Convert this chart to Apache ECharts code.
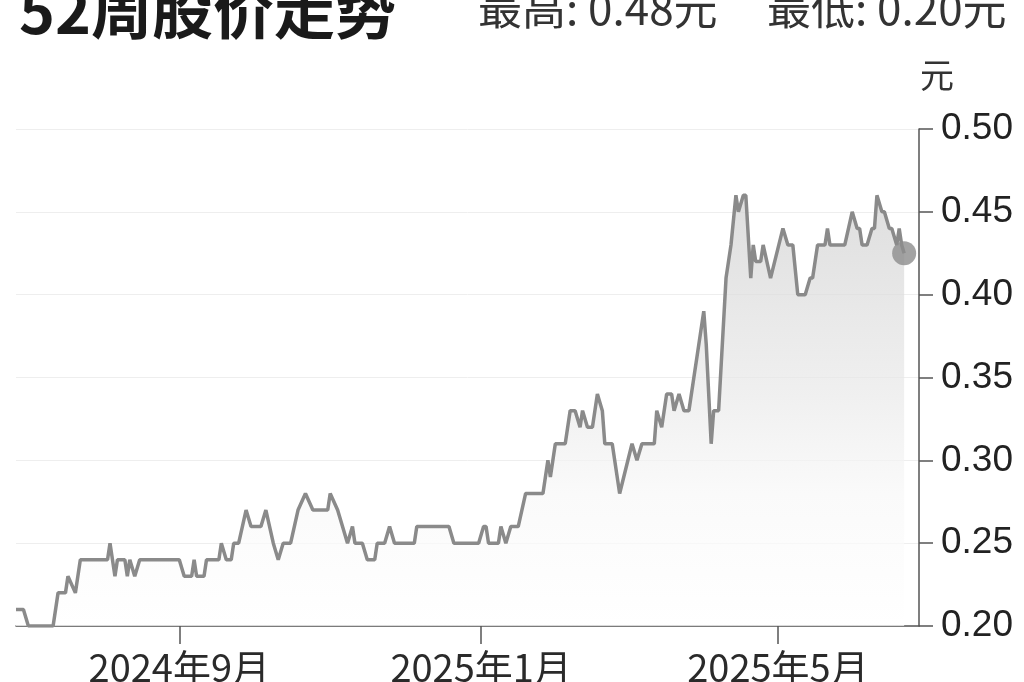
<!DOCTYPE html>
<html>
<head>
<meta charset="utf-8">
<script src="https://cdn.jsdelivr.net/npm/echarts@6/dist/echarts.min.js"></script>
<style>
html,body{margin:0;padding:0;background:#fff;}
#chart{width:1024px;height:682px;}
</style>
</head>
<body>
<div id="chart"></div>
<script>
// ---- data ----
const titleText = '52周股价走势';
const highText = '最高: 0.48元';
const lowText = '最低: 0.20元';
const unitText = '元';

const dates = [
  '2024-06-27','2024-06-30','2024-07-02','2024-07-12','2024-07-14','2024-07-17','2024-07-18','2024-07-21','2024-07-23',
  '2024-08-03','2024-08-04','2024-08-06','2024-08-07','2024-08-10','2024-08-11','2024-08-12','2024-08-14','2024-08-16',
  '2024-09-01','2024-09-03','2024-09-06','2024-09-07','2024-09-08','2024-09-11','2024-09-12','2024-09-17','2024-09-18',
  '2024-09-20','2024-09-22','2024-09-23','2024-09-25','2024-09-28','2024-09-30',
  '2024-10-04','2024-10-06','2024-10-09','2024-10-11','2024-10-13','2024-10-16','2024-10-19','2024-10-22','2024-10-25','2024-10-31',
  '2024-11-01','2024-11-04','2024-11-08','2024-11-10','2024-11-11','2024-11-14','2024-11-16','2024-11-19','2024-11-20','2024-11-23','2024-11-25','2024-11-27',
  '2024-12-05','2024-12-06','2024-12-19','2024-12-21','2024-12-31',
  '2025-01-02','2025-01-03','2025-01-04','2025-01-08','2025-01-09','2025-01-11','2025-01-13','2025-01-16','2025-01-19','2025-01-26','2025-01-28','2025-01-29','2025-01-31',
  '2025-02-04','2025-02-06','2025-02-08','2025-02-10','2025-02-11','2025-02-13','2025-02-15','2025-02-17','2025-02-19','2025-02-20','2025-02-23','2025-02-26',
  '2025-03-03','2025-03-05','2025-03-07','2025-03-12','2025-03-13','2025-03-15','2025-03-17','2025-03-19','2025-03-20','2025-03-22','2025-03-24','2025-03-26','2025-03-28','2025-03-29',
  '2025-04-01','2025-04-02','2025-04-04','2025-04-05','2025-04-07','2025-04-10','2025-04-11','2025-04-12','2025-04-14','2025-04-15','2025-04-17','2025-04-18',
  '2025-04-20','2025-04-21','2025-04-22','2025-04-24','2025-04-25','2025-04-28',
  '2025-05-03','2025-05-05','2025-05-07','2025-05-09','2025-05-12','2025-05-14','2025-05-15','2025-05-17','2025-05-20','2025-05-21','2025-05-22','2025-05-28','2025-05-31',
  '2025-06-02','2025-06-03','2025-06-04','2025-06-06','2025-06-08','2025-06-09','2025-06-10','2025-06-12','2025-06-13','2025-06-15','2025-06-16','2025-06-18','2025-06-19','2025-06-20','2025-06-21'
];
const prices = [
  0.21,0.21,0.20,0.20,0.22,0.22,0.23,0.22,0.24,
  0.24,0.25,0.23,0.24,0.24,0.23,0.24,0.23,0.24,
  0.24,0.23,0.23,0.24,0.23,0.23,0.24,0.24,0.25,
  0.24,0.24,0.25,0.25,0.27,0.26,
  0.26,0.27,0.25,0.24,0.25,0.25,0.27,0.28,0.27,0.27,
  0.28,0.27,0.25,0.26,0.25,0.25,0.24,0.24,0.25,0.25,0.26,0.25,
  0.25,0.26,0.26,0.25,0.25,
  0.26,0.26,0.25,0.25,0.26,0.25,0.26,0.26,0.28,0.28,0.30,0.29,0.31,
  0.31,0.33,0.33,0.32,0.33,0.32,0.32,0.34,0.33,0.31,0.31,0.28,
  0.31,0.30,0.31,0.31,0.33,0.32,0.34,0.34,0.33,0.34,0.33,0.33,0.35,0.36,
  0.39,0.37,0.31,0.33,0.33,0.41,0.42,0.43,0.46,0.45,0.46,0.46,
  0.41,0.43,0.42,0.42,0.43,0.41,
  0.44,0.43,0.43,0.40,0.40,0.41,0.41,0.43,0.43,0.44,0.43,0.43,0.45,
  0.44,0.44,0.43,0.43,0.44,0.44,0.46,0.45,0.45,0.44,0.44,0.43,0.44,0.43,0.425
];
const xTickDates = ['2024-09-01','2025-01-01','2025-05-01'];
const xTickLabels = ['2024年9月','2025年1月','2025年5月'];
const xRange = ['2024-06-27','2025-06-27'];
const yTicks = [0.20, 0.25, 0.30, 0.35, 0.40, 0.45, 0.50];

// ---- chart ----
const chart = echarts.init(document.getElementById('chart'), null, {renderer:'canvas'});
const ts = d => new Date(d + 'T00:00:00Z').getTime();
const seriesData = dates.map((d, i) => [ts(d), prices[i]]);
const lastPoint = seriesData[seriesData.length - 1];
const tickTs = xTickDates.map(ts);
const labelFor = v => {
  let best = '', bd = Infinity;
  tickTs.forEach((t, i) => { const d = Math.abs(t - v); if (d < bd) { bd = d; best = xTickLabels[i]; } });
  return bd < 86400000 ? best : '';
};

const numFont = '"Liberation Sans", "Noto Sans CJK SC", sans-serif';
const cjkFont = '"Noto Sans CJK SC", "Liberation Sans", sans-serif';

chart.setOption({
  animation: false,
  backgroundColor: '#ffffff',
  grid: {left: 16, right: 105, top: 129, bottom: 56, containLabel: false, outerBoundsMode: 'none'},
  xAxis: {
    type: 'value',
    min: ts(xRange[0]),
    max: ts(xRange[1]),
    axisLine: {show: true, lineStyle: {color: '#555', width: 1.5}},
    axisTick: {show: true, length: 18, lineStyle: {color: '#555', width: 1.5}, customValues: tickTs},
    axisLabel: {
      customValues: tickTs,
      formatter: v => labelFor(v),
      fontSize: 38, color: '#2a2a2a', margin: 23, fontFamily: cjkFont
    },
    splitLine: {show: false}
  },
  yAxis: {
    type: 'value',
    position: 'right',
    min: yTicks[0], max: yTicks[yTicks.length - 1], interval: 0.05,
    axisLine: {show: true, lineStyle: {color: '#555', width: 1.5}},
    axisTick: {show: true, length: 14, lineStyle: {color: '#555', width: 1.5}},
    axisLabel: {
      formatter: v => v.toFixed(2),
      fontSize: 37, color: '#222', margin: 22, fontFamily: numFont
    },
    splitLine: {show: true, lineStyle: {color: '#eeeeee', width: 1}}
  },
  series: [
    {
      type: 'line',
      data: seriesData,
      showSymbol: false,
      smooth: false,
      lineStyle: {color: '#8a8a8a', width: 3.5},
      areaStyle: {
        color: new echarts.graphic.LinearGradient(0, 190, 0, 626, [
          {offset: 0, color: '#d0d0d0'},
          {offset: 0.45, color: '#e8e8e8'},
          {offset: 0.7, color: '#f8f8f8'},
          {offset: 1, color: '#ffffff'}
        ], true)
      },
      z: 3
    },
    {
      type: 'scatter',
      data: [lastPoint],
      symbolSize: 24,
      itemStyle: {color: '#8c8c8c'},
      z: 4
    }
  ],
  graphic: [
    {type: 'text', left: 19, top: -20, style: {text: titleText, font: 'bold 61px ' + cjkFont, fill: '#1a1a1a'}},
    {type: 'text', left: 478, top: -14, style: {text: highText, font: '44px ' + cjkFont, fill: '#333'}},
    {type: 'text', left: 767, top: -14, style: {text: lowText, font: '44px ' + cjkFont, fill: '#333'}},
    {type: 'text', left: 920, top: 58, style: {text: unitText, font: '34px ' + cjkFont, fill: '#333'}}
  ]
});
</script>
</body>
</html>
